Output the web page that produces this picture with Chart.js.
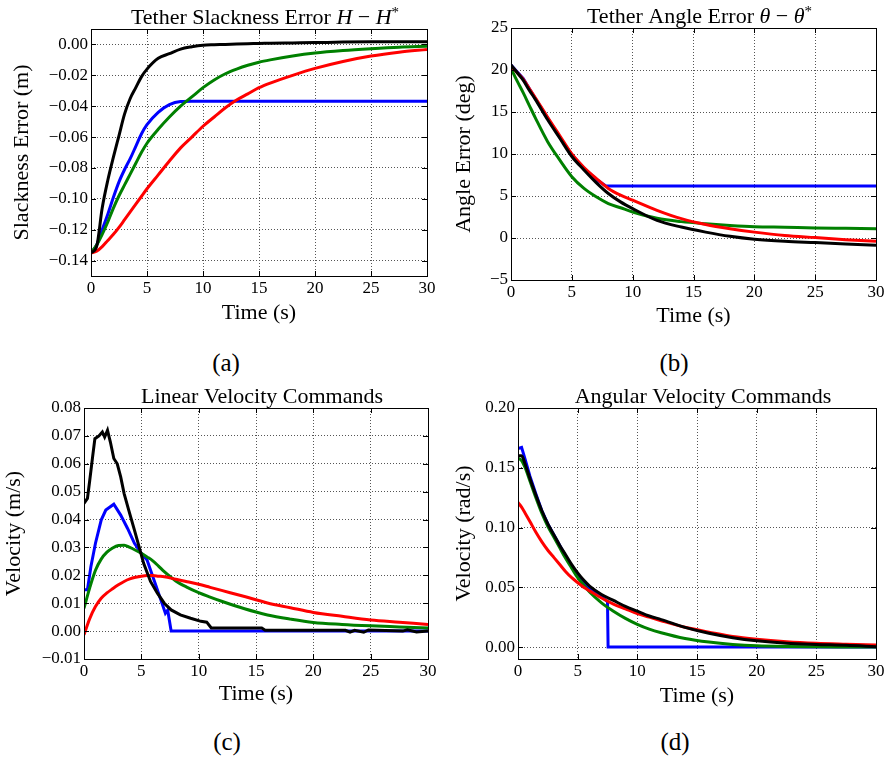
<!DOCTYPE html>
<html>
<head>
<meta charset="utf-8">
<title>Tether controller results</title>
<script src="https://cdn.jsdelivr.net/npm/chart.js@4.4.1/dist/chart.umd.min.js"></script>
<style>
  html, body { margin: 0; padding: 0; background: #fff; }
  body { width: 887px; height: 757px; position: relative; overflow: hidden; font-family: "Liberation Serif", serif; }
  canvas { position: absolute; display: block; }
  .caption { position: absolute; font-size: 25px; color: #000; transform: translate(-50%, -50%); white-space: nowrap; }
</style>
</head>
<body>
<canvas id="chartA" width="443" height="335" style="left:0;top:0"></canvas>
<canvas id="chartB" width="444" height="335" style="left:443px;top:0"></canvas>
<canvas id="chartC" width="443" height="330" style="left:0;top:380px"></canvas>
<canvas id="chartD" width="444" height="330" style="left:443px;top:380px"></canvas>
<div class="caption" style="left:226px;top:363px">(a)</div>
<div class="caption" style="left:674px;top:363px">(b)</div>
<div class="caption" style="left:227px;top:742px">(c)</div>
<div class="caption" style="left:675px;top:742px">(d)</div>
<script>
// ---- shared axis ticks ----
const xTicks = [0, 5, 10, 15, 20, 25, 30];
const yTicksA = [-0.14, -0.12, -0.10, -0.08, -0.06, -0.04, -0.02, 0.00];
const yTicksB = [-5, 0, 5, 10, 15, 20, 25];
const yTicksC = [-0.01, 0.00, 0.01, 0.02, 0.03, 0.04, 0.05, 0.06, 0.07, 0.08];
const yTicksD = [0.00, 0.05, 0.10, 0.15, 0.20];

// ---- (a) tether slackness error (m) ----
const timeA = [0, 0.5, 1, 1.5, 2, 2.5, 3, 3.5, 4, 4.5, 5, 6, 7, 8, 9, 10, 11, 12, 13, 14, 15, 16, 18, 20, 22.5, 25, 27.5, 30];
const slackBlack = [-0.135, -0.131, -0.106, -0.088, -0.073, -0.059, -0.045, -0.035, -0.028, -0.021, -0.016, -0.009, -0.006, -0.003, -0.0015, -0.0005, -0.0002, 0.0, 0.0003, 0.0005, 0.0006, 0.0008, 0.001, 0.0012, 0.0015, 0.0017, 0.0018, 0.0018];
const slackBlue = [-0.135, -0.130, -0.120, -0.110, -0.099, -0.089, -0.081, -0.074, -0.066, -0.058, -0.052, -0.044, -0.039, -0.037, -0.0368, -0.0368, -0.0368, -0.0368, -0.0368, -0.0368, -0.0368, -0.0368, -0.0368, -0.0368, -0.0368, -0.0368, -0.0368, -0.0368];
const slackGreen = [-0.135, -0.130, -0.123, -0.115, -0.106, -0.098, -0.091, -0.084, -0.077, -0.070, -0.064, -0.055, -0.047, -0.040, -0.034, -0.028, -0.023, -0.019, -0.016, -0.0135, -0.0115, -0.010, -0.0075, -0.0056, -0.004, -0.0028, -0.0018, -0.0012];
const slackRed = [-0.135, -0.134, -0.131, -0.127, -0.123, -0.1185, -0.1135, -0.1085, -0.1035, -0.0985, -0.0935, -0.0845, -0.0755, -0.067, -0.060, -0.053, -0.047, -0.041, -0.036, -0.032, -0.028, -0.025, -0.020, -0.0155, -0.011, -0.0075, -0.005, -0.0032];

// ---- (b) tether angle error (deg) ----
const timeB = [0, 0.5, 1, 1.5, 2, 3, 4, 5, 6, 7, 8, 9, 10, 12, 14, 16, 18, 20, 22.5, 25, 27.5, 30];
const angleBlack = [20.6, 19.7, 18.8, 17.6, 16.5, 14.1, 11.9, 9.7, 8.1, 6.6, 5.3, 4.3, 3.5, 2.1, 1.3, 0.7, 0.2, -0.15, -0.4, -0.55, -0.7, -0.85];
const angleRed = [20.5, 19.7, 18.9, 17.8, 16.7, 14.4, 12.2, 10.0, 8.4, 7.1, 5.9, 5.1, 4.5, 3.3, 2.3, 1.6, 1.1, 0.7, 0.3, 0.05, -0.2, -0.4];
const angleGreen = [20.2, 18.7, 17.3, 15.8, 14.3, 11.5, 9.3, 7.3, 5.9, 4.9, 4.1, 3.6, 3.1, 2.35, 1.95, 1.7, 1.5, 1.35, 1.28, 1.2, 1.15, 1.1];
const timeBlueB = [0, 0.5, 1, 1.5, 2, 3, 4, 5, 6, 7, 7.8, 30];
const angleBlue = [20.6, 19.8, 19.0, 17.8, 16.6, 14.3, 12.0, 9.9, 8.3, 7.0, 6.2, 6.2];

// ---- (c) linear velocity commands (m/s) ----
const timeC = [0, 0.5, 1, 1.5, 2, 2.5, 3, 3.5, 4, 4.5, 5, 5.5, 6, 6.5, 7, 8, 9, 10, 11, 12, 14, 16, 18, 20, 22.5, 25, 27.5, 30];
const linRed = [-0.0013, 0.0045, 0.0088, 0.0118, 0.0137, 0.0152, 0.0166, 0.0178, 0.0187, 0.0193, 0.0197, 0.0199, 0.0199, 0.0197, 0.0195, 0.0186, 0.0177, 0.0168, 0.0157, 0.0146, 0.0124, 0.0101, 0.0084, 0.0067, 0.0053, 0.004, 0.0032, 0.0024];
const linGreen = [0.0082, 0.0155, 0.0218, 0.0258, 0.0283, 0.0298, 0.0307, 0.0308, 0.0300, 0.0290, 0.0279, 0.0266, 0.0252, 0.0233, 0.0213, 0.0180, 0.0157, 0.0138, 0.0122, 0.0107, 0.0080, 0.0058, 0.0043, 0.0031, 0.0024, 0.0019, 0.0015, 0.0011];
const timeBlueC = [0, 0.3, 0.6, 1.0, 1.5, 1.9, 2.6, 3.2, 3.8, 4.4, 5.0, 5.5, 5.8, 6.3, 6.7, 7.1, 7.3, 7.6, 30];
const linBlue = [0.0148, 0.0148, 0.0231, 0.0315, 0.0398, 0.0434, 0.0455, 0.0416, 0.0368, 0.0315, 0.0279, 0.0255, 0.0219, 0.016, 0.0112, 0.0064, 0.0075, 0.0, 0.0];
const timeBlackC = [0, 0.3, 0.5, 0.75, 0.95, 1.3, 1.6, 1.8, 2.05, 2.3, 2.6, 2.9, 3.2, 3.5, 3.9, 4.4, 4.8, 5.2, 5.8, 6.4, 7.0, 7.6, 8.4, 9.3, 10.2, 10.7, 11.1, 15.5, 15.8, 22.8, 23.2, 23.6, 24.4, 24.8, 27.8, 28.2, 29, 30];
const linBlack = [0.0458, 0.0476, 0.054, 0.0625, 0.069, 0.070, 0.0714, 0.0696, 0.072, 0.0678, 0.0619, 0.060, 0.0553, 0.0493, 0.0434, 0.0362, 0.0303, 0.0243, 0.0178, 0.0136, 0.010, 0.0076, 0.0058, 0.0046, 0.0035, 0.0032, 0.0011, 0.0011, 0.0003, 0.0003, -0.0004, 0.0003, -0.0004, 0.0004, 0.0, 0.0005, -0.0003, 0.0];

// ---- (d) angular velocity commands (rad/s) ----
const timeD = [0, 0.3, 0.6, 1, 1.5, 2, 2.5, 3, 3.5, 4, 4.5, 5, 5.5, 6, 7, 8, 9, 10, 11, 12, 14, 16, 18, 20, 22.5, 25, 27.5, 30];
const angBlack = [0.160, 0.160, 0.153, 0.141, 0.127, 0.114, 0.103, 0.094, 0.085, 0.077, 0.069, 0.062, 0.056, 0.051, 0.044, 0.039, 0.034, 0.030, 0.026, 0.023, 0.0165, 0.0115, 0.0078, 0.0052, 0.0032, 0.0022, 0.0015, 0.0003];
const angGreen = [0.158, 0.156, 0.150, 0.139, 0.125, 0.112, 0.101, 0.092, 0.083, 0.074, 0.066, 0.058, 0.052, 0.046, 0.037, 0.030, 0.024, 0.019, 0.015, 0.012, 0.0072, 0.0042, 0.0022, 0.001, 0.0004, 0.0002, 0.0001, 0.0];
const angRed = [0.121, 0.117, 0.112, 0.105, 0.096, 0.088, 0.081, 0.075, 0.069, 0.063, 0.058, 0.054, 0.050, 0.047, 0.041, 0.036, 0.032, 0.028, 0.025, 0.022, 0.0165, 0.0125, 0.0088, 0.0065, 0.0045, 0.0032, 0.0024, 0.0017];
const timeBlueD = [0, 0.3, 0.6, 1, 1.5, 2, 2.5, 3, 3.5, 4, 4.5, 5, 5.5, 6, 6.5, 7, 7.5, 7.55, 30];
const angBlue = [0.166, 0.167, 0.157, 0.143, 0.128, 0.114, 0.103, 0.094, 0.085, 0.076, 0.068, 0.061, 0.054, 0.049, 0.045, 0.042, 0.038, 0.0, 0.0];

const SERIF = '"Liberation Serif", "DejaVu Serif", serif';

// pair up x and y arrays for a linear x axis
function pts(xs, ys) {
    return xs.map((x, i) => ({ x: x, y: ys[i] }));
}

function minus(str) {
    return str.replace('-', '\u2212');
}

// draws the title, which mixes upright and italic math text
const mathTitle = {
    id: 'mathTitle',
    afterDraw(chart, args, opts) {
        if (!opts.parts) return;
        const ctx = chart.ctx;
        const area = chart.chartArea;
        const fontFor = p => (p.italic ? 'italic ' : '') + (p.sup ? Math.round(opts.size * 0.7) : opts.size) + 'px ' + SERIF;
        let total = 0;
        opts.parts.forEach(p => { ctx.font = fontFor(p); total += ctx.measureText(p.text).width; });
        let x = (area.left + area.right) / 2 + 6 - total / 2;
        const y = area.top - 5;
        ctx.save();
        ctx.fillStyle = '#000';
        ctx.textBaseline = 'alphabetic';
        ctx.textAlign = 'left';
        opts.parts.forEach(p => {
            ctx.font = fontFor(p);
            ctx.fillText(p.text, x, p.sup ? y - opts.size * 0.3 : y);
            x += ctx.measureText(p.text).width;
        });
        ctx.restore();
    }
};

// full axes box plus inward tick marks, matplotlib style
const axesFrame = {
    id: 'axesFrame',
    afterDraw(chart) {
        const ctx = chart.ctx;
        const a = chart.chartArea;
        const xs = chart.scales.x, ys = chart.scales.y;
        ctx.save();
        ctx.strokeStyle = '#000';
        ctx.lineWidth = 1;
        ctx.beginPath();
        xs.ticks.forEach(t => {
            const px = Math.round(xs.getPixelForValue(t.value)) + 0.5;
            ctx.moveTo(px, a.bottom); ctx.lineTo(px, a.bottom - 5);
            ctx.moveTo(px, a.top); ctx.lineTo(px, a.top + 5);
        });
        ys.ticks.forEach(t => {
            const py = Math.round(ys.getPixelForValue(t.value)) + 0.5;
            ctx.moveTo(a.left, py); ctx.lineTo(a.left + 5, py);
            ctx.moveTo(a.right, py); ctx.lineTo(a.right - 5, py);
        });
        ctx.stroke();
        ctx.strokeRect(Math.round(a.left) + 0.5, Math.round(a.top) + 0.5, Math.round(a.right - a.left), Math.round(a.bottom - a.top));
        ctx.restore();
    }
};

function line(data, color, smooth) {
    return {
        data: data,
        borderColor: color,
        backgroundColor: color,
        borderWidth: 3,
        pointRadius: 0,
        fill: false,
        tension: 0,
        cubicInterpolationMode: smooth ? 'monotone' : 'default'
    };
}

/**
 * Build one panel. geom gives the plot box inside the canvas so the
 * four panels line up like the original figure.
 */
function makePanel(id, geom, cfg) {
    const canvas = document.getElementById(id);
    const W = canvas.width, H = canvas.height;
    return new Chart(canvas.getContext('2d'), {
        type: 'line',
        data: { datasets: cfg.datasets },
        options: {
            responsive: false,
            animation: false,
            layout: { padding: { top: geom.top, right: W - geom.right, bottom: 0, left: 0 } },
            plugins: {
                legend: { display: false },
                tooltip: { enabled: false },
                mathTitle: { parts: cfg.title, size: 22 }
            },
            scales: {
                x: {
                    type: 'linear',
                    min: 0,
                    max: 30,
                    afterBuildTicks: s => { s.ticks = xTicks.map(v => ({ value: v })); },
                    afterFit: s => { s.height = H - geom.bottom; },
                    grid: { color: '#555', lineWidth: 1, drawTicks: false },
                    border: { display: false, dash: [1, 2] },
                    ticks: {
                        color: '#000',
                        padding: 2,
                        maxRotation: 0,
                        font: { family: SERIF, size: 17 },
                        callback: v => String(v)
                    },
                    title: {
                        display: true,
                        text: 'Time (s)',
                        color: '#000',
                        font: { family: SERIF, size: 22 },
                        padding: { top: 0, bottom: cfg.xTitlePad }
                    }
                },
                y: {
                    type: 'linear',
                    min: cfg.yMin,
                    max: cfg.yMax,
                    afterBuildTicks: s => { s.ticks = cfg.yTicks.map(v => ({ value: v })); },
                    afterFit: s => { s.width = geom.left; },
                    grid: { color: '#555', lineWidth: 1, drawTicks: false },
                    border: { display: false, dash: [1, 2] },
                    ticks: {
                        color: '#000',
                        padding: 3,
                        font: { family: SERIF, size: 17 },
                        callback: cfg.yFormat
                    },
                    title: {
                        display: true,
                        text: cfg.yLabel,
                        color: '#000',
                        font: { family: SERIF, size: 22 },
                        padding: { top: cfg.yTitlePad, bottom: 0 }
                    }
                }
            }
        },
        plugins: [mathTitle, axesFrame]
    });
}

const fmt2 = v => minus((Math.abs(v) < 1e-9 ? 0 : v).toFixed(2));
const fmt0 = v => minus(String(Math.round(v)));

// dataset 0 is drawn on top, so black goes first
makePanel('chartA', { left: 91, right: 427, top: 29, bottom: 276 }, {
    title: [{ text: 'Tether Slackness Error ' }, { text: 'H', italic: true }, { text: ' \u2212 ' }, { text: 'H', italic: true }, { text: '*', sup: true }],
    yLabel: 'Slackness Error (m)',
    yMin: -0.15, yMax: 0.01, yTicks: yTicksA, yFormat: fmt2,
    xTitlePad: 9, yTitlePad: 9,
    datasets: [
        line(pts(timeA, slackBlack), '#000000', true),
        line(pts(timeA, slackRed), '#ff0000', true),
        line(pts(timeA, slackGreen), '#008000', true),
        line(pts(timeA, slackBlue), '#0000ff', true)
    ]
});

makePanel('chartB', { left: 68, right: 433, top: 28, bottom: 280 }, {
    title: [{ text: 'Tether Angle Error ' }, { text: '\u03b8', italic: true }, { text: ' \u2212 ' }, { text: '\u03b8', italic: true }, { text: '*', sup: true }],
    yLabel: 'Angle Error (deg)',
    yMin: -5, yMax: 25, yTicks: yTicksB, yFormat: fmt0,
    xTitlePad: 6, yTitlePad: 8,
    datasets: [
        line(pts(timeB, angleBlack), '#000000', true),
        line(pts(timeB, angleRed), '#ff0000', true),
        line(pts(timeB, angleGreen), '#008000', true),
        line(pts(timeBlueB, angleBlue), '#0000ff', false)
    ]
});

makePanel('chartC', { left: 84, right: 428, top: 28, bottom: 279 }, {
    title: [{ text: 'Linear Velocity Commands' }],
    yLabel: 'Velocity (m/s)',
    yMin: -0.01, yMax: 0.08, yTicks: yTicksC, yFormat: fmt2,
    xTitlePad: 3, yTitlePad: 1,
    datasets: [
        line(pts(timeBlackC, linBlack), '#000000', false),
        line(pts(timeC, linRed), '#ff0000', true),
        line(pts(timeC, linGreen), '#008000', true),
        line(pts(timeBlueC, linBlue), '#0000ff', false)
    ]
});

makePanel('chartD', { left: 75, right: 433, top: 28, bottom: 279 }, {
    title: [{ text: 'Angular Velocity Commands' }],
    yLabel: 'Velocity (rad/s)',
    yMin: -0.01, yMax: 0.20, yTicks: yTicksD, yFormat: fmt2,
    xTitlePad: 1, yTitlePad: 8,
    datasets: [
        line(pts(timeD, angBlack), '#000000', true),
        line(pts(timeD, angRed), '#ff0000', true),
        line(pts(timeD, angGreen), '#008000', true),
        line(pts(timeBlueD, angBlue), '#0000ff', false)
    ]
});
</script>
</body>
</html>
